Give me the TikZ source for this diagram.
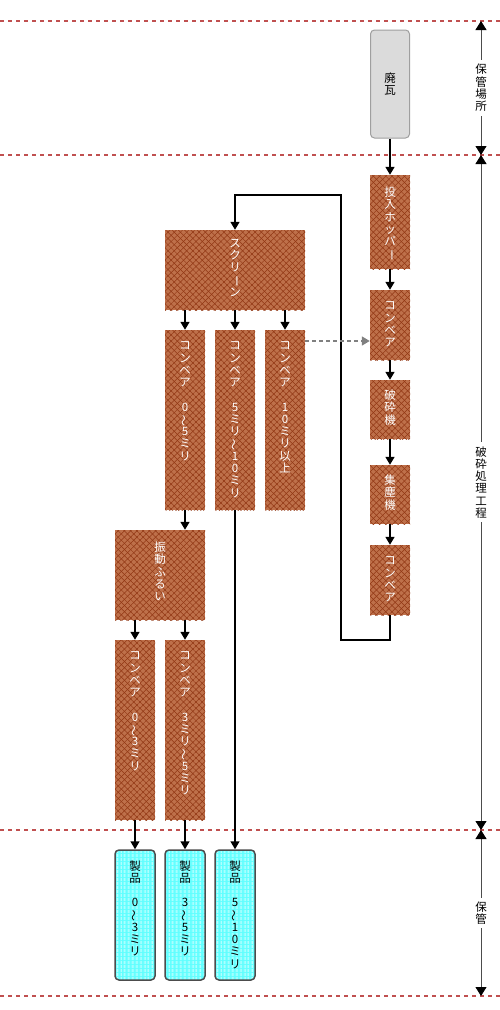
\documentclass[tikz,border=0pt]{standalone}
\usepackage{fontspec}
\newfontfamily\jp{Noto Sans CJK JP}
\usetikzlibrary{arrows.meta, patterns.meta}
\definecolor{brick}{RGB}{190,112,74}
\definecolor{brickline}{RGB}{145,55,20}
\definecolor{aqua}{RGB}{96,255,255}
\definecolor{aqualight}{RGB}{190,255,255}
\definecolor{sepred}{RGB}{192,80,80}
\newcommand{\vchou}{\rotatebox[origin=c]{-90}{ー}}
\newcommand{\vnami}{\rotatebox[origin=c]{90}{〜}}

\begin{document}
\begin{tikzpicture}[x=1pt, y=-1pt,
        brbox/.style={minimum width=40pt, inner sep=0pt, fill=brick,
                      postaction={pattern={Lines[angle=45,distance=4.4pt,line width=0.5pt]}, pattern color=brickline},
                      postaction={pattern={Lines[angle=-45,distance=4.4pt,line width=0.5pt]}, pattern color=brickline}},
        gbox/.style={draw=gray!75, line width=1pt, fill=gray!28, rounded corners=4pt,
                     minimum width=39pt, minimum height=108pt, inner sep=0pt},
        pbox/.style={draw=gray!60!black, line width=1.5pt, rounded corners=4pt,
                     minimum width=40pt, minimum height=130pt, inner sep=0pt,
                     preaction={fill=aqua},
                     preaction={pattern={Lines[angle=90,distance=4pt,line width=1.6pt]}, pattern color=aqualight}},
        vtxt/.style={align=center, inner sep=0pt, font=\jp\fontsize{11.5}{12.3}\selectfont},
        wtxt/.style={vtxt, text=white, anchor=north, yshift=-12pt},
        btxt/.style={vtxt, text=black, anchor=north, yshift=-11pt},
        arr/.style={-{Triangle[width=9pt,length=8pt]}, line width=1.5pt},
        darr/.style={-{Triangle[width=9pt,length=8pt]}, draw=gray, line width=1.5pt, dash pattern=on 4pt off 3pt},
        dim/.style={{Triangle[width=11pt,length=9pt,color=black]}-{Triangle[width=11pt,length=9pt,color=black]},
                    draw=gray!60!black, line width=0.8pt},
        dimlbl/.style={vtxt, fill=white, inner sep=4pt},
        sep/.style={draw=sepred, line width=1.3pt, dash pattern=on 4pt off 4pt}
      ]
      \useasboundingbox (0,0) rectangle (500,1010);
      \foreach \y in {21,155,830,996}
        \draw[sep] (0,\y) -- (500,\y);

      \node[gbox, vtxt] (haiga) at (390,84) {廃\\瓦};
      \node[brbox, minimum height=94pt, label={[wtxt]north:{投\\入\\ホ\\ッ\\パ\\\vchou}}] (hopper) at (390,222) {};
      \node[brbox, minimum height=70pt, label={[wtxt]north:{コ\\ン\\ベ\\ア}}] (conv1) at (390,325) {};
      \node[brbox, minimum height=59pt, label={[wtxt, yshift=2pt]north:{破\\砕\\機}}] (crusher) at (390,409.5) {};
      \node[brbox, minimum height=59pt, label={[wtxt, yshift=2pt]north:{集\\塵\\機}}] (dust) at (390,494.5) {};
      \node[brbox, minimum height=70pt, label={[wtxt]north:{コ\\ン\\ベ\\ア}}] (conv2) at (390,580) {};

      \node[brbox, minimum width=140pt, minimum height=80pt, label={[wtxt, yshift=3pt]north:{ス\\ク\\リ\\\vchou\\ン}}] (scr) at (235,270) {};
      \node[brbox, minimum height=180pt, label={[wtxt]north:{コ\\ン\\ベ\\ア\\[12pt]0\\\vnami\\5\\ミ\\リ}}] (c05) at (185,420) {};
      \node[brbox, minimum height=180pt, label={[wtxt]north:{コ\\ン\\ベ\\ア\\[12pt]5\\ミ\\リ\\\vnami\\1\\0\\ミ\\リ}}] (c510) at (235,420) {};
      \node[brbox, minimum height=180pt, label={[wtxt]north:{コ\\ン\\ベ\\ア\\[12pt]1\\0\\ミ\\リ\\以\\上}}] (c10) at (285,420) {};
      \node[brbox, minimum width=90pt, minimum height=90pt, label={[wtxt]north:{振\\動\\ふ\\る\\い}}] (sieve) at (160,575) {};
      \node[brbox, minimum height=180pt, label={[wtxt]north:{コ\\ン\\ベ\\ア\\[12pt]0\\\vnami\\3\\ミ\\リ}}] (c03) at (135,730) {};
      \node[brbox, minimum height=180pt, label={[wtxt]north:{コ\\ン\\ベ\\ア\\[12pt]3\\ミ\\リ\\\vnami\\5\\ミ\\リ}}] (c35) at (185,730) {};

      \node[pbox, label={[btxt]north:{製\\品\\[12pt]0\\\vnami\\3\\ミ\\リ}}] (p03) at (135,915) {};
      \node[pbox, label={[btxt]north:{製\\品\\[12pt]3\\\vnami\\5\\ミ\\リ}}] (p35) at (185,915) {};
      \node[pbox, label={[btxt]north:{製\\品\\[12pt]5\\\vnami\\1\\0\\ミ\\リ}}] (p510) at (235,915) {};

      \coordinate (loopb) at (341,640);
      \coordinate (loopt) at (341,195);
      \coordinate (dtip) at ([yshift=-16pt]conv1.west);

      \draw[arr] (haiga) -- (hopper);
      \draw[arr] (hopper) -- (conv1);
      \draw[arr] (conv1) -- (crusher);
      \draw[arr] (crusher) -- (dust);
      \draw[arr] (dust) -- (conv2);
      \draw[arr] (conv2.south) |- (loopb) -- (loopt) -| (scr.north);
      \draw[arr] (scr.south -| c05.north) -- (c05.north);
      \draw[arr] (scr.south -| c510.north) -- (c510.north);
      \draw[arr] (scr.south -| c10.north) -- (c10.north);
      \draw[darr] (c10.east |- dtip) -- (dtip);
      \draw[arr] (c05.south) -- (c05.south |- sieve.north);
      \draw[arr] (c510) -- (p510);
      \draw[arr] (sieve.south -| c03.north) -- (c03.north);
      \draw[arr] (sieve.south -| c35.north) -- (c35.north);
      \draw[arr] (c03) -- (p03);
      \draw[arr] (c35) -- (p35);

      \coordinate (d0) at (481,21);
      \coordinate (d1) at (481,155);
      \coordinate (d2) at (481,830);
      \coordinate (d3) at (481,996);
      \draw[dim] (d0) -- node[dimlbl] {保\\管\\場\\所} (d1);
      \draw[dim] (d1) -- node[dimlbl, pos=0.485] {破\\砕\\処\\理\\工\\程} (d2);
      \draw[dim] (d2) -- node[dimlbl] {保\\管} (d3);
    \end{tikzpicture}
\end{document}
